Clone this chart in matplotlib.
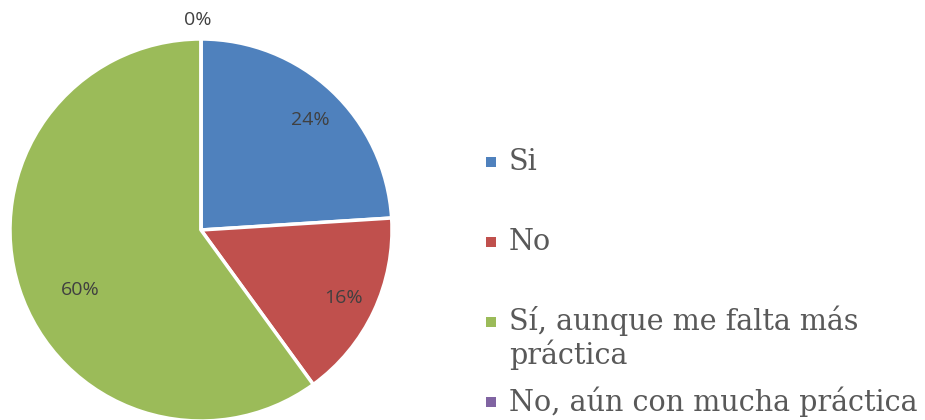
import matplotlib.pyplot as plt
from matplotlib.patches import Rectangle

categorias = ['Si', 'No', 'Sí, aunque me falta más\npráctica', 'No, aún con mucha práctica']
valores = [24, 16, 60, 0]
colores = ['#4F81BD', '#C0504D', '#9BBB59', '#8064A2']

W, H = 925, 420
fig = plt.figure(figsize=(W / 100, H / 100), dpi=100)
ax = fig.add_axes([0, 0, 1, 1])

# pastel, en coordenadas de pixel
wedges, textos, autotextos = ax.pie(
    valores, colors=colores, startangle=90, counterclock=False,
    center=(201, H - 230), radius=191, autopct='%1.0f%%', pctdistance=0.81,
    wedgeprops=dict(edgecolor='white', linewidth=2.5),
    textprops=dict(family='Open Sans', fontsize=14, color='#404040'),
    frame=True)
ax.set_xlim(0, W)
ax.set_ylim(0, H)
ax.set_aspect('equal')
ax.axis('off')

# ajuste tipo "mejor ajuste" de Excel
autotextos[0].set_position((310, H - 120))
autotextos[1].set_position((343, H - 298))
autotextos[2].set_position((80, H - 290))
autotextos[3].set_position((198, H - 20))

# leyenda manual
filas_y = [162, 242, 322, 402]
for cat, col, y in zip(categorias, colores, filas_y):
    ax.add_patch(Rectangle((486, H - y - 5), 10, 10, facecolor=col, edgecolor='none'))
    if '\n' in cat:
        ax.text(509, H - y + 16, cat, family='DejaVu Serif', fontsize=20.6,
                color='#595959', va='top', linespacing=1.12)
    else:
        ax.text(509, H - y, cat, family='DejaVu Serif', fontsize=20.6,
                color='#595959', va='center')

fig.savefig('out.png', dpi=100)
